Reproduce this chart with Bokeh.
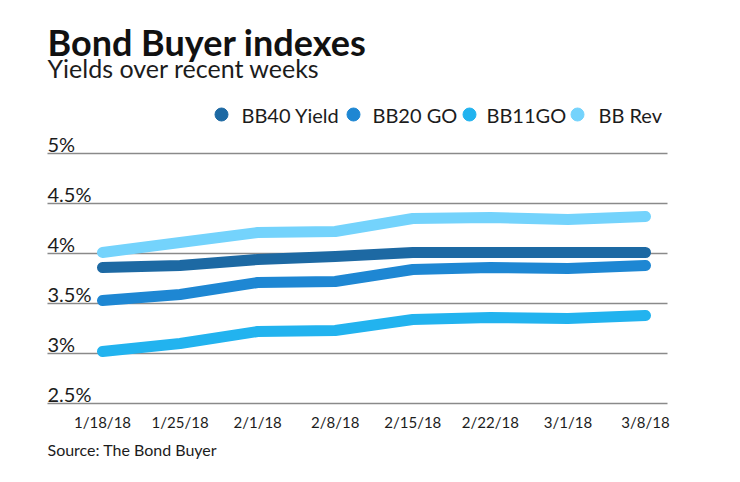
from bokeh.plotting import figure
from bokeh.models import Range1d, ColumnDataSource
from bokeh.core.properties import value
from bokeh.embed import file_html
from bokeh.resources import INLINE

# ---- data ----
dates = ["1/18/18", "1/25/18", "2/1/18", "2/8/18", "2/15/18", "2/22/18", "3/1/18", "3/8/18"]
bb40_yield = [3.86, 3.88, 3.94, 3.97, 4.01, 4.01, 4.01, 4.01]
bb20_go = [3.53, 3.59, 3.71, 3.72, 3.84, 3.86, 3.85, 3.88]
bb11_go = [3.02, 3.10, 3.22, 3.23, 3.34, 3.36, 3.35, 3.38]
bb_rev = [4.01, 4.11, 4.21, 4.22, 4.35, 4.36, 4.34, 4.37]
series_names = ["BB40 Yield", "BB20 GO", "BB11GO", "BB Rev"]
series_values = [bb40_yield, bb20_go, bb11_go, bb_rev]
series_colors = ["#1d69a3", "#1e87d3", "#22b3ef", "#74d3fc"]
ytick_values = [2.5, 3.0, 3.5, 4.0, 4.5, 5.0]
ytick_labels = ["2.5%", "3%", "3.5%", "4%", "4.5%", "5%"]

FONT = "Lato"
TXT = "#1c1c1c"
W, H = 724, 466

# layout helpers (canvas pixel -> data coordinate), used for text placement only
PX_X = 543 / 7.0
def X(px):
    return (px - 102) / PX_X
def Y(py):
    return 5 - (py - 153) / 100.0

xs = list(range(len(dates)))

p = figure(width=W, height=H, min_border=0,
           x_range=Range1d(X(0), X(W)), y_range=Range1d(Y(H), Y(0)),
           x_axis_location=None, y_axis_location=None,
           output_backend="svg", toolbar_location=None)
p.outline_line_color = None
p.background_fill_color = "white"
p.border_fill_color = "white"
p.xgrid.visible = False
p.ygrid.visible = False

# horizontal gridlines at tick values
n = len(ytick_values)
p.segment(x0=[X(47)] * n, x1=[X(667)] * n, y0=ytick_values, y1=ytick_values,
          line_color="#8a8a8a", line_width=1.5)

# series lines
for name, vals, col in zip(series_names, series_values, series_colors):
    p.line(xs, vals, line_color=col, line_width=11, line_cap="round", line_join="round")

# y tick labels (sit just above their gridline)
ysrc = ColumnDataSource(dict(x=[X(47)] * n, y=ytick_values, t=ytick_labels))
p.text(x="x", y="y", text="t", source=ysrc, text_font=value(FONT), text_font_size="20px",
       text_color=TXT, text_baseline="middle", text_align="left", y_offset=-10)

# x tick labels
xsrc = ColumnDataSource(dict(x=xs, y=[Y(421)] * len(xs), t=dates))
p.text(x="x", y="y", text="t", source=xsrc, text_font=value(FONT), text_font_size="15px",
       text_color=TXT, text_baseline="middle", text_align="center")

# legend (dots + labels)
leg_dot_px = [221, 353, 469, 577]
leg_txt_px = [241, 372, 486, 598]
p.scatter([X(v) for v in leg_dot_px], [Y(114)] * 4, size=13, color=series_colors, marker="circle")
lsrc = ColumnDataSource(dict(x=[X(v) for v in leg_txt_px], y=[Y(114)] * 4, t=series_names))
p.text(x="x", y="y", text="t", source=lsrc, text_font=value(FONT), text_font_size="20px",
       text_color=TXT, text_baseline="middle", text_align="left")

# titles and source
def txt(s, px, py, size, style="normal", color=TXT):
    p.text(x=[X(px)], y=[Y(py)], text=[s], text_font=value(FONT), text_font_size=size,
           text_font_style=style, text_color=color, text_baseline="middle", text_align="left")

txt("Bond Buyer indexes", 47, 41, "36px", "bold", "#111111")
txt("Yields over recent weeks", 47, 67, "25px")
txt("Source: The Bond Buyer", 47, 449, "16px")

open("out.html", "w").write(file_html(p, INLINE))
